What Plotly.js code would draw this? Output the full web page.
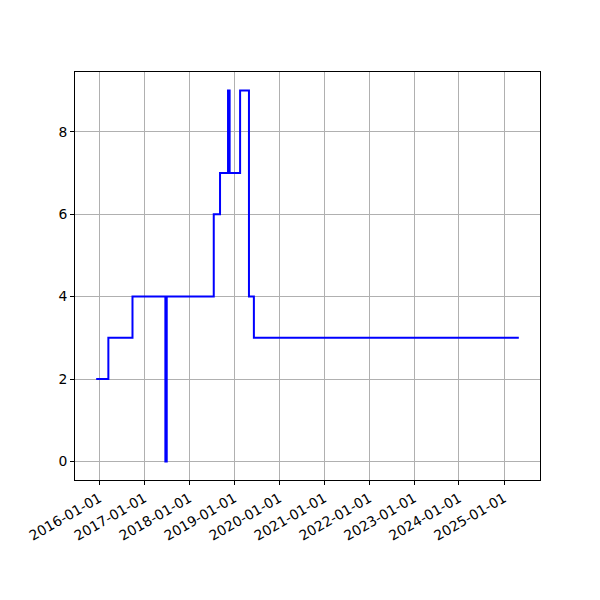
<!DOCTYPE html>
<html>
<head>
<meta charset="utf-8">
<script src="https://cdn.plot.ly/plotly-3.0.1.min.js"></script>
<style>body{margin:0;padding:0;background:#fff}#chart{width:600px;height:600px}</style>
</head>
<body>
<div id="chart"></div>
<script>
var dates = ["2015-12-07","2016-03-15","2016-09-27","2017-06-21","2017-07-02","2018-07-19","2018-09-08","2018-11-12","2018-11-25","2019-02-18","2019-05-01","2019-06-10","2025-05-01"];
var values = [2,3,4,0,4,6,7,9,7,9,4,3,3];
var tickDates = ["2016-01-01","2017-01-01","2018-01-01","2019-01-01","2020-01-01","2021-01-01","2022-01-01","2023-01-01","2024-01-01","2025-01-01"];
var yTicks = [0,2,4,6,8];

var trace = {
  x: dates, y: values, type: 'scatter', mode: 'lines',
  line: {shape: 'hv', color: '#0000ff', width: 2}
};
var axisCommon = {
  showline: true, mirror: true, linecolor: '#000', linewidth: 1,
  ticks: 'outside', ticklen: 4, tickcolor: '#000', tickwidth: 1,
  showgrid: true, gridcolor: '#b0b0b0', gridwidth: 1, zeroline: false,
  tickfont: {family: 'DejaVu Sans', size: 13.9, color: '#000'}
};
var layout = {
  width: 600, height: 600,
  margin: {l: 75, r: 60, t: 72, b: 120},
  paper_bgcolor: '#fff', plot_bgcolor: '#fff',
  showlegend: false,
  xaxis: Object.assign({}, axisCommon, {
    type: 'date', range: ['2015-06-18', '2025-10-20'],
    tickmode: 'array', tickvals: tickDates, ticktext: tickDates,
    tickangle: -30
  }),
  yaxis: Object.assign({}, axisCommon, {
    range: [-0.45, 9.45], tickmode: 'array', tickvals: yTicks, ticktext: yTicks.map(String)
  })
};
Plotly.newPlot('chart', [trace], layout, {staticPlot: true, displayModeBar: false});
</script>
</body>
</html>
